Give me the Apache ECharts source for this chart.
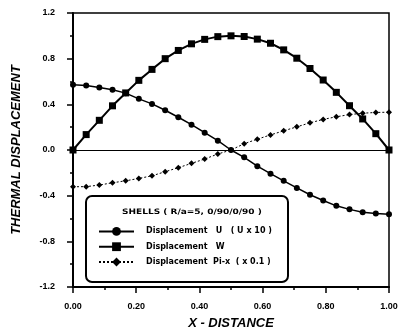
<!DOCTYPE html>
<html><head><meta charset="utf-8">
<script src="https://cdn.jsdelivr.net/npm/echarts@6/dist/echarts.min.js"></script>
<style>html,body{margin:0;padding:0;background:#fff}#c{width:399px;height:330px}</style>
</head><body><div id="c"></div>
<script>
const xs = [0, 0.0417, 0.0833, 0.125, 0.1667, 0.2083, 0.25, 0.2917, 0.3333, 0.375, 0.4167, 0.4583, 0.5, 0.5417, 0.5833, 0.625, 0.6667, 0.7083, 0.75, 0.7917, 0.8333, 0.875, 0.9167, 0.9583, 1];
const dispU = [0.571, 0.565, 0.547, 0.527, 0.498, 0.448, 0.404, 0.348, 0.287, 0.222, 0.152, 0.082, 0, -0.064, -0.142, -0.207, -0.27, -0.332, -0.392, -0.442, -0.489, -0.52, -0.545, -0.556, -0.562];
const dispW = [0, 0.135, 0.26, 0.387, 0.5, 0.61, 0.706, 0.8, 0.872, 0.93, 0.969, 0.993, 1.0, 0.994, 0.971, 0.935, 0.877, 0.804, 0.714, 0.613, 0.505, 0.388, 0.272, 0.143, 0];
const dispPi = [-0.322, -0.321, -0.307, -0.287, -0.27, -0.249, -0.226, -0.19, -0.155, -0.117, -0.079, -0.035, 0, 0.055, 0.095, 0.132, 0.168, 0.203, 0.238, 0.268, 0.291, 0.31, 0.322, 0.329, 0.331];
const seriesNames = ['Displacement   U   ( U x 10 )', 'Displacement   W', 'Displacement  Pi-x  ( x 0.1 )'];
const legendTitle = 'SHELLS ( R/a=5, 0/90/0/90 )';
const xTitle = 'X - DISTANCE';
const yTitle = 'THERMAL DISPLACEMENT';

const pair = arr => xs.map((x, i) => [x, arr[i]]);
const chart = echarts.init(document.getElementById('c'), null, {renderer: 'canvas'});
const lblFont = {color: '#000', fontFamily: 'Liberation Sans, Arial', fontWeight: 'bold', fontSize: 9};
chart.setOption({
  animation: false,
  backgroundColor: '#fff',
  grid: {left: 73, right: 10, top: 13, bottom: 43, containLabel: false, outerBoundsMode: 'none',
         show: true, borderColor: '#000', borderWidth: 1.5, backgroundColor: 'transparent'},
  xAxis: {
    type: 'value', min: 0, max: 1, interval: 0.2,
    name: xTitle, nameLocation: 'middle', nameGap: 30,
    nameTextStyle: {color: '#000', fontFamily: 'Liberation Sans, Arial', fontWeight: 'bold', fontStyle: 'italic', fontSize: 13},
    axisLine: {onZero: false, lineStyle: {color: '#000', width: 2}},
    axisTick: {show: true, inside: false, length: 6, lineStyle: {color: '#000', width: 1.5}},
    minorTick: {show: true, splitNumber: 2, length: 3, lineStyle: {color: '#000', width: 1.5}},
    splitLine: {show: false},
    axisLabel: Object.assign({margin: 15, formatter: v => v.toFixed(2)}, lblFont)
  },
  yAxis: {
    type: 'value', min: -1.2, max: 1.2, interval: 0.4,
    name: yTitle, nameLocation: 'middle', nameGap: 50, nameRotate: 90,
    nameTextStyle: {color: '#000', fontFamily: 'Liberation Sans, Arial', fontWeight: 'bold', fontStyle: 'italic', fontSize: 13},
    axisLine: {onZero: false, lineStyle: {color: '#000', width: 2}},
    axisTick: {show: true, inside: false, length: 6, lineStyle: {color: '#000', width: 1.5}},
    minorTick: {show: true, splitNumber: 2, length: 3, lineStyle: {color: '#000', width: 1.5}},
    splitLine: {show: false},
    axisLabel: Object.assign({margin: 18, formatter: v => v.toFixed(1)}, lblFont)
  },
  legend: {
    orient: 'vertical', left: 98, top: 227, padding: 0, itemWidth: 35, itemHeight: 11, itemGap: 6.5,
    textStyle: {color: '#000', fontFamily: 'DejaVu Sans', fontWeight: 'bold', fontSize: 8, padding: [0, 0, 0, 7]},
    data: seriesNames
  },
  graphic: [
    {type: 'rect', z: 3, shape: {x: 86, y: 196, width: 202, height: 86, r: 6}, style: {fill: '#fff', stroke: '#000', lineWidth: 2}},
    {type: 'text', z: 4, x: 122, y: 212, scaleX: 1.2, style: {text: legendTitle, fill: '#000', font: 'bold 7.5px "DejaVu Sans"', textVerticalAlign: 'middle'}}
  ],
  series: [
    {name: seriesNames[0], type: 'line', data: pair(dispU), symbol: 'circle', symbolSize: 6,
     itemStyle: {color: '#000'}, lineStyle: {color: '#000', width: 1.5},
     markLine: {silent: true, symbol: 'none', label: {show: false}, lineStyle: {color: '#000', width: 1, type: 'solid'}, data: [{yAxis: 0}]}},
    {name: seriesNames[1], type: 'line', data: pair(dispW), symbol: 'rect', symbolSize: 7,
     itemStyle: {color: '#000'}, lineStyle: {color: '#000', width: 2}},
    {name: seriesNames[2], type: 'line', data: pair(dispPi), symbol: 'diamond', symbolSize: 6,
     itemStyle: {color: '#000'}, lineStyle: {color: '#000', width: 1, type: [2, 2]}}
  ]
});
</script></body></html>
